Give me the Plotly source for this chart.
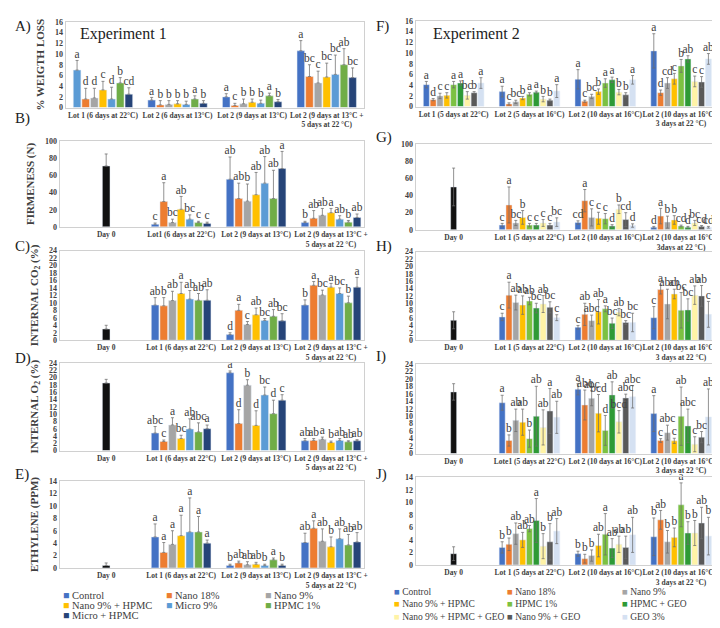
import plotly.graph_objects as go

# Series names and colours
EXP1_SERIES = ['Control', 'Nano 18%', 'Nano 9%', 'Nano 9% + HPMC', 'Micro 9%',
               'HPMC 1%', 'Micro + HPMC']
EXP1_COLORS = ['#4472C4', '#ED7D31', '#A5A5A5', '#FFC000', '#5B9BD5',
               '#70AD47', '#264478']
EXP2_SERIES = ['Control', 'Nano 18%', 'Nano 9%', 'Nano 9% + HPMC', 'HPMC 1%',
               'HPMC + GEO', 'Nano 9% + HPMC + GEO', 'Nano 9% + GEO', 'GEO 3%']
EXP2_COLORS = ['#4472C4', '#ED7D31', '#A5A5A5', '#FFC000', '#7CC142',
               '#2E9A36', '#FFF3A6', '#595959', '#D5E1F2']
DAY0_COLOR = '#111111'

# Categories
A_CATS = ['Lot 1 (6 days at 22°C)', 'Lot 2 (6 days at 13°C)', 'Lot 2 (9 days at 13°C)',
          'Lot 2 (9 days at 13°C +<br>5 days at 22 °C)']
B_CATS = ['Day 0', 'Lot1 (6 days at 22°C)', 'Lot 2 (9 days at 13°C)',
          'Lot 2 (9 days at 13°C +<br>5 days at 22 °C)']
CDE_CATS = ['Day 0', 'Lot 1 (6 days at 22°C)', 'Lot 2 (9 days at 13°C)',
            'Lot 2 (9 days at 13°C +<br>5 days at 22 °C)']
F_CATS = ['Lot 1 (5 days at 22°C)', 'Lot 2 (5 days at 16°C)', 'Lot 2 (10 days at 16°C)',
          'Lot 2 (10 days at 16°C +<br>3 days at 22 °C)']
G_CATS = ['Day 0', 'Lot 1 (5 days at 22°C)', 'Lot 2 (10 days at 16°C)',
          'Lot 2 (10 days at 16°C +<br>3days at 22 °C)']
H_CATS = ['Day 0', 'Lot 1 (5 days at 22°C)', 'Lot 2 (10 days at 16°C)',
          'Lot 2 (10 days at 16°C +<br>3 days at 22 °C)']
I_CATS = ['Day 0', 'Lote1 (5 days at 22°C)', 'Lot 2 (10 days at 16°C)',
          'Lot 2 (10 days at 16°C +<br>3 days at 22 °C)']
J_CATS = H_CATS

# A) weight loss, experiment 1
A_VAL = [[7.0, 1.4, 2.0, 10.6], [1.6, 0.5, 0.4, 5.8], [1.8, 0.6, 0.7, 4.6],
         [3.3, 0.7, 1.0, 5.7], [1.6, 0.6, 0.8, 6.2], [4.6, 1.6, 2.2, 8.0],
         [2.5, 0.8, 1.1, 5.6]]
A_ERR = [[1.8, 0.5, 0.6, 1.9], [2.0, 0.8, 0.4, 2.2], [1.8, 0.7, 0.9, 2.2],
         [1.6, 0.6, 0.6, 2.6], [2.2, 0.6, 0.6, 3.6], [1.0, 0.6, 0.5, 3.0],
         [1.2, 0.5, 0.4, 1.8]]
A_LET = [['a', 'a', 'a', 'a'], ['d', 'b', 'c', 'bc'], ['d', 'b', 'b', 'c'],
         ['c', 'b', 'b', 'bc'], ['d', 'b', 'b', 'bc'], ['b', 'a', 'a', 'ab'],
         ['cd', 'b', 'b', 'bc']]

# B) firmness, experiment 1
B_DAY0, B_DAY0_ERR = 71, 14
B_VAL = [[3, 55.5, 5], [29.5, 33, 10], [5, 30, 13.5], [20.5, 37.5, 16.5],
         [9, 51, 9], [5, 33, 5.5], [4, 68, 11]]
B_ERR = [[1.5, 26, 1.5], [22, 18, 9], [4, 20, 8], [15, 26, 5],
         [5, 31, 4], [1.5, 33, 2], [1.5, 20, 4]]
B_LET = [['c', 'ab', 'b'], ['a', 'ab', 'ab'], ['bc', 'b', 'ab'], ['ab', 'ab', 'a'],
         ['bc', 'ab', 'ab'], ['c', 'ab', 'b'], ['c', 'a', 'ab']]

# C) internal CO2, experiment 1
C_DAY0, C_DAY0_ERR = 3.0, 1.0
C_VAL = [[9.4, 1.5, 9.4], [9.2, 8.0, 14.7], [10.6, 4.2, 12.1], [12.5, 6.8, 14.2],
         [11.0, 5.3, 12.5], [10.7, 6.4, 10.0], [10.7, 5.2, 14.2]]
C_ERR = [[2.0, 0.5, 1.4], [2.2, 1.6, 1.0], [2.5, 0.8, 1.3], [3.0, 1.8, 1.0],
         [2.3, 0.5, 1.5], [1.8, 1.8, 1.8], [2.8, 1.9, 2.6]]
C_LET = [['ab', 'd', 'b'], ['b', 'a', 'a'], ['ab', 'c', 'bc'], ['a', 'ab', 'a'],
         ['ab', 'bc', 'bc'], ['ab', 'ab', 'b'], ['ab', 'bc', 'a']]

# D) internal O2, experiment 1
D_DAY0, D_DAY0_ERR = 18.5, 1.0
D_VAL = [[4.8, 21.3, 2.7], [2.5, 7.4, 2.8], [7.0, 17.9, 3.1], [3.3, 6.9, 2.2],
         [5.9, 15.2, 2.8], [5.1, 10.1, 2.4], [6.0, 13.8, 2.7]]
D_ERR = [[1.8, 0.5, 0.6], [0.4, 3.8, 0.5], [2.0, 1.5, 0.6], [0.9, 4.0, 0.4],
         [2.8, 2.2, 0.5], [2.5, 3.7, 0.3], [1.0, 1.5, 0.3]]
D_LET = [['abc', 'a', 'ab'], ['c', 'd', 'ab'], ['a', 'b', 'a'], ['bc', 'd', 'b'],
         ['ab', 'bc', 'ab'], ['abc', 'd', 'ab'], ['a', 'c', 'ab']]

# E) ethylene, experiment 1
E_DAY0, E_DAY0_ERR = 0.4, 0.4
E_VAL = [[5.0, 0.4, 4.1], [2.5, 0.8, 6.4], [3.8, 0.5, 4.3], [5.2, 0.6, 3.4],
         [5.8, 0.4, 4.7], [5.8, 1.3, 3.7], [4.0, 0.4, 4.2]]
E_ERR = [[2.1, 0.2, 1.5], [1.6, 0.3, 1.2], [2.2, 0.5, 2.0], [3.3, 0.3, 1.6],
         [5.5, 0.2, 1.6], [2.5, 0.3, 1.7], [0.5, 0.2, 1.5]]
E_LET = [['a', 'b', 'ab'], ['a', 'ab', 'a'], ['a', 'ab', 'ab'], ['a', 'ab', 'b'],
         ['a', 'b', 'ab'], ['a', 'a', 'ab'], ['a', 'b', 'ab']]

# F) weight loss, experiment 2
F_VAL = [[4.1, 2.8, 5.1, 10.4], [1.3, 0.5, 1.0, 2.6], [2.0, 0.9, 1.9, 4.4],
         [2.1, 1.6, 2.8, 5.2], [4.1, 2.3, 4.4, 7.6], [4.4, 2.7, 5.0, 8.9],
         [2.1, 1.4, 2.7, 4.7], [2.6, 1.2, 2.2, 4.6], [4.4, 2.9, 5.0, 8.9]]
F_ERR = [[0.6, 1.0, 1.8, 3.2], [0.2, 0.2, 0.2, 0.5], [0.5, 0.3, 0.4, 1.0],
         [0.5, 0.3, 0.5, 1.0], [0.6, 0.3, 0.8, 1.2], [0.4, 0.2, 0.5, 0.6],
         [0.7, 0.5, 0.5, 1.0], [0.2, 0.2, 0.4, 1.0], [1.0, 1.2, 0.8, 1.0]]
F_LET = [['a', 'a', 'a', 'a'], ['d', 'c', 'c', 'd'], ['c', 'bc', 'bc', 'cd'],
         ['c', 'b', 'b', 'c'], ['a', 'a', 'a', 'b'], ['a', 'a', 'a', 'ab'],
         ['bc', 'b', 'b', 'c'], ['b', 'b', 'b', 'c'], ['a', 'a', 'a', 'ab']]

# G) firmness, experiment 2
G_DAY0, G_DAY0_ERR = 50, 22
G_VAL = [[5.5, 8.5, 3], [29, 34, 16], [8, 14.5, 9], [14.5, 13.5, 11.5],
         [5.5, 13, 4.5], [5.5, 4.5, 3], [8, 24, 8], [5.5, 12, 4], [9, 5, 3]]
G_ERR = [[2, 2, 1], [21, 13, 9], [3, 10, 7], [8, 7, 5], [2, 6, 1],
         [2, 1.5, 1], [4, 5, 3], [2, 8, 1], [5, 2, 1]]
G_LET = [['c', 'cd', 'd'], ['a', 'a', 'a'], ['bc', 'c', 'b'], ['b', 'c', 'b'],
         ['c', 'c', 'cd'], ['c', 'd', 'd'], ['c', 'b', 'bc'], ['c', 'cd', 'cd'],
         ['bc', 'd', 'cd']]

# H) internal CO2, experiment 2
H_DAY0, H_DAY0_ERR = 5.4, 2.3
H_VAL = [[6.3, 3.5, 6.1], [12.2, 7.0, 13.7], [10.2, 5.3, 9.8], [9.5, 7.7, 12.5],
         [10.6, 8.5, 8.1], [8.7, 4.6, 8.2], [9.8, 7.6, 12.2], [8.9, 4.8, 12.0],
         [6.1, 4.8, 7.0]]
H_ERR = [[1.0, 0.5, 3.0], [3.5, 3.0, 1.2], [2.0, 1.5, 4.0], [2.5, 3.3, 1.3],
         [1.0, 0.8, 4.8], [1.3, 1.4, 3.0], [2.3, 1.0, 2.5], [1.5, 0.5, 2.8],
         [0.8, 2.5, 3.5]]
H_LET = [['c', 'c', 'c'], ['a', 'ab', 'a'], ['ab', 'abc', 'abc'], ['ab', 'ab', 'ab'],
         ['ab', 'a', 'bc'], ['bc', 'bc', 'bc'], ['ab', 'ab', 'ab'], ['bc', 'bc', 'ab'],
         ['c', 'bc', 'c']]

# I) internal O2, experiment 2
I_DAY0, I_DAY0_ERR = 16.5, 2.2
I_VAL = [[13.6, 17.2, 10.7], [3.5, 13.0, 3.5], [8.9, 14.8, 5.6], [8.4, 10.8, 3.4],
         [4.0, 6.2, 10.0], [10.0, 15.7, 7.4], [7.0, 8.5, 2.5], [11.4, 14.9, 4.4],
         [9.7, 15.2, 9.8]]
I_ERR = [[2.0, 1.5, 4.8], [1.5, 4.0, 0.5], [3.0, 2.0, 2.0], [3.5, 5.0, 0.7],
         [2.3, 4.0, 7.8], [8.0, 3.5, 4.5], [4.7, 3.0, 2.0], [6.0, 1.0, 1.5],
         [4.3, 3.0, 7.5]]
I_LET = [['a', 'a', 'a'], ['b', 'abc', 'c'], ['ab', 'abc', 'abc'], ['ab', 'bcd', 'c'],
         ['b', 'd', 'ab'], ['ab', 'ab', 'abc'], ['ab', 'bcd', 'c'], ['a', 'abc', 'bc'],
         ['ab', 'abc', 'ab']]

# J) ethylene, experiment 2
J_DAY0, J_DAY0_ERR = 1.8, 1.1
J_VAL = [[2.8, 1.8, 4.5], [3.3, 1.0, 7.2], [5.0, 1.5, 3.7], [4.0, 3.1, 4.4],
         [5.8, 4.9, 9.6], [7.1, 2.7, 5.1], [3.0, 3.3, 5.1], [3.7, 2.8, 6.7],
         [5.4, 4.8, 4.6]]
J_ERR = [[0.9, 0.4, 3.0], [1.0, 0.7, 1.5], [1.7, 0.9, 1.8], [1.2, 1.8, 1.5],
         [0.5, 3.3, 3.5], [3.5, 1.5, 1.8], [2.0, 1.3, 2.0], [2.9, 1.8, 2.5],
         [2.0, 2.8, 3.0]]
J_LET = [['b', 'b', 'b'], ['b', 'b', 'ab'], ['ab', 'b', 'b'], ['ab', 'ab', 'b'],
         ['ab', 'a', 'a'], ['a', 'ab', 'b'], ['b', 'ab', 'b'], ['b', 'ab', 'ab'],
         ['ab', 'ab', 'b']]

W, H = 720, 628
SERIF = 'Liberation Serif'
TXT = '#404040'

# (label, cats, values, errors, letters, day0, day0 err, exp, y title, ymax, dtick,
#  pixel box x0, x1, ytop, ybottom, x range)
panels = [
    ('A)', A_CATS, A_VAL, A_ERR, A_LET, None, None, 1, '% WEIGTH LOSS', 16, 2,
     58, 358, 10, 97, [-0.5, 3.5]),
    ('B)', B_CATS, B_VAL, B_ERR, B_LET, B_DAY0, B_DAY0_ERR, 1, 'FIRMENESS (N)', 100, 20,
     52, 358, 131, 218, [-0.62, 3.44]),
    ('C)', CDE_CATS, C_VAL, C_ERR, C_LET, C_DAY0, C_DAY0_ERR, 1,
     'INTERNAL CO<sub>2</sub> (%)', 24, 2, 52, 358, 242, 333, [-0.62, 3.44]),
    ('D)', CDE_CATS, D_VAL, D_ERR, D_LET, D_DAY0, D_DAY0_ERR, 1,
     'INTERNAL O<sub>2</sub> (%)', 24, 2, 52, 358, 356, 445, [-0.62, 3.44]),
    ('E)', CDE_CATS, E_VAL, E_ERR, E_LET, E_DAY0, E_DAY0_ERR, 1, 'ETHYLENE (PPM)', 14, 2,
     52, 358, 476, 564, [-0.62, 3.44]),
    ('F)', F_CATS, F_VAL, F_ERR, F_LET, None, None, 2, None, 16, 2,
     410, 715, 9, 96, [-0.5, 3.5]),
    ('G)', G_CATS, G_VAL, G_ERR, G_LET, G_DAY0, G_DAY0_ERR, 2, None, 100, 20,
     410, 715, 134, 221, [-0.5, 3.5]),
    ('H)', H_CATS, H_VAL, H_ERR, H_LET, H_DAY0, H_DAY0_ERR, 2, None, 24, 2,
     410, 715, 243, 333, [-0.5, 3.5]),
    ('I)', I_CATS, I_VAL, I_ERR, I_LET, I_DAY0, I_DAY0_ERR, 2, None, 24, 2,
     410, 715, 357, 448, [-0.5, 3.5]),
    ('J)', J_CATS, J_VAL, J_ERR, J_LET, J_DAY0, J_DAY0_ERR, 2, None, 14, 2,
     410, 715, 472, 561, [-0.5, 3.5]),
]

fig = go.Figure()
layout = {}
annotations = []

for i, (lab, cats, vals, errs, lets, d0, d0e, exp, ytitle, ymax, dtick,
        x0, x1, yt, yb, xr) in enumerate(panels):
    n = i + 1
    xa, ya = ('x', 'y') if n == 1 else (f'x{n}', f'y{n}')
    series = EXP1_SERIES if exp == 1 else EXP2_SERIES
    colors = EXP1_COLORS if exp == 1 else EXP2_COLORS
    lots = cats[1:] if d0 is not None else cats
    sym = exp == 2

    for k, name in enumerate(series):
        col = colors[k]
        if lab == 'A)' and k == 0:
            col = ['#5B9BD5'] + [colors[0]] * 3
        fig.add_bar(x=lots, y=vals[k], name=name, marker_color=col,
                    offsetgroup=str(k), xaxis=xa, yaxis=ya, showlegend=False,
                    error_y=dict(type='data', array=errs[k], symmetric=sym,
                                 arrayminus=None if sym else [0] * len(lots),
                                 color='rgba(110,110,110,0.75)', thickness=1, width=1.5))
    if d0 is not None:
        fig.add_bar(x=[cats[0]], y=[d0], name='Day 0', marker_color=DAY0_COLOR,
                    offsetgroup=str(len(series) // 2), xaxis=xa, yaxis=ya, showlegend=False,
                    error_y=dict(type='data', array=[d0e], symmetric=sym,
                                 arrayminus=None if sym else [0],
                                 color='rgba(110,110,110,0.75)', thickness=1, width=1.5))
    for k, name in enumerate(series):
        fig.add_scatter(x=lots, y=[v + e for v, e in zip(vals[k], errs[k])],
                        text=lets[k], mode='text', textposition='top center',
                        offsetgroup=str(k), xaxis=xa, yaxis=ya, showlegend=False,
                        cliponaxis=False, hoverinfo='skip',
                        textfont=dict(family=SERIF, size=11.5, color=TXT))

    yaxis = dict(
        domain=[1 - yb / H, 1 - yt / H], anchor=xa, range=[0, ymax], dtick=dtick,
        showline=True, linecolor='#d0d0d0', mirror=True, showgrid=False,
        zeroline=False, ticks='',
        tickfont=dict(family=SERIF, size=8, color=TXT, weight='bold'))
    if ytitle:
        yaxis['title'] = dict(text=ytitle, standoff=8,
                              font=dict(family=SERIF, size=11, color=TXT, weight='bold'))
    layout['xaxis' if n == 1 else f'xaxis{n}'] = dict(
        domain=[x0 / W, x1 / W], anchor=ya, type='category',
        categoryorder='array', categoryarray=cats, range=xr,
        showline=True, linecolor='#d0d0d0', mirror=True, showgrid=False,
        ticks='', tickangle=0,
        tickfont=dict(family=SERIF, size=7.5, color=TXT, weight='bold'))
    layout['yaxis' if n == 1 else f'yaxis{n}'] = yaxis

    lx = 5 if exp == 1 else 368
    ly = {'A)': 15, 'B)': 108, 'C)': 238, 'D)': 352, 'E)': 469,
          'F)': 15, 'G)': 127, 'H)': 238, 'I)': 350, 'J)': 469}[lab]
    annotations.append(dict(text=lab, x=lx / W, y=1 - ly / H, xref='paper', yref='paper',
                            xanchor='left', yanchor='middle', showarrow=False,
                            font=dict(family=SERIF, size=15, color='#222222')))

annotations.append(dict(text='Experiment 1', x=70 / W, y=1 - 22 / H, xref='paper',
                        yref='paper', xanchor='left', yanchor='middle', showarrow=False,
                        font=dict(family=SERIF, size=16, color='#222222')))
annotations.append(dict(text='Experiment 2', x=425 / W, y=1 - 22 / H, xref='paper',
                        yref='paper', xanchor='left', yanchor='middle', showarrow=False,
                        font=dict(family=SERIF, size=16, color='#222222')))

# Legends drawn as text rows (three columns)
legend_specs = [(EXP1_SERIES, EXP1_COLORS, [53, 157, 256], [592, 602, 612], 10.5),
                (EXP2_SERIES, EXP2_COLORS, [386, 500, 615], [588, 601, 614], 9.5)]
for names, cols, xs, ys, fs in legend_specs:
    for j, (nm, c) in enumerate(zip(names, cols)):
        annotations.append(dict(
            text=f"<span style='color:{c}'>■</span> {nm}",
            x=xs[j % 3] / W, y=1 - ys[j // 3] / H, xref='paper', yref='paper',
            xanchor='left', yanchor='middle', showarrow=False,
            font=dict(family=SERIF, size=fs, color=TXT)))

fig.update_layout(**layout)
fig.update_layout(width=W, height=H, margin=dict(l=0, r=0, t=0, b=0),
                  paper_bgcolor='white', plot_bgcolor='white',
                  barmode='group', bargap=0.19, bargroupgap=0.12,
                  scattermode='group', scattergap=0.19,
                  annotations=annotations, showlegend=False)

fig.write_html("out.html")
